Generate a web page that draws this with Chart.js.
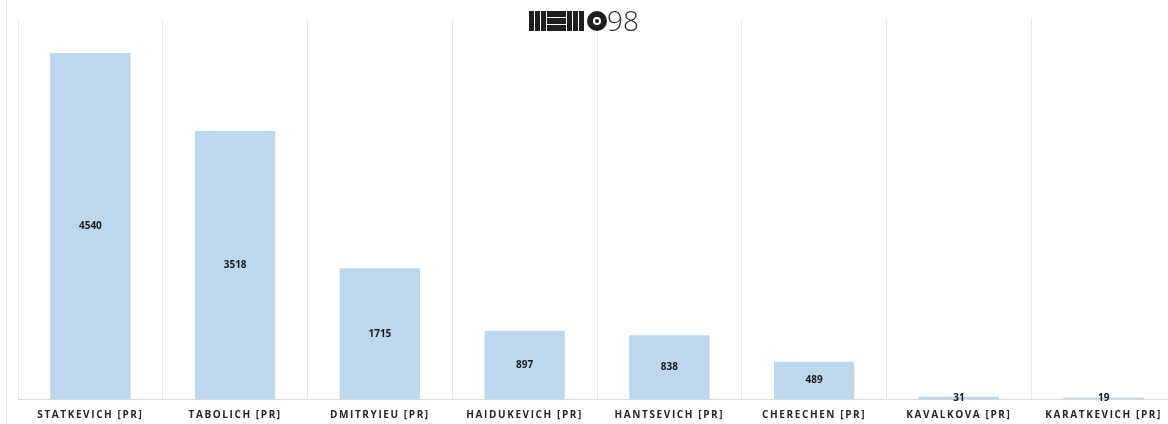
<!DOCTYPE html>
<html>
<head>
<meta charset="utf-8">
<script src="https://cdn.jsdelivr.net/npm/chart.js@4"></script>
<style>
  html, body { margin: 0; padding: 0; background: #fff; overflow: hidden; }
  #wrap { position: absolute; left: 0; top: 0; width: 1176px; height: 435px; }
  #frame { position: absolute; left: 6px; top: 0; width: 1px; height: 424px; background: #ececec; }
</style>
</head>
<body>
<div id="frame"></div>
<div id="wrap"><canvas id="votes"></canvas></div>
<script>
let candidates = [
    "STATKEVICH [PR]", "TABOLICH [PR]", "DMITRYIEU [PR]", "HAIDUKEVICH [PR]",
    "HANTSEVICH [PR]", "CHERECHEN [PR]", "KAVALKOVA [PR]", "KARATKEVICH [PR]"
]
let mentions = [4540, 3518, 1715, 897, 838, 489, 31, 19]

// spaced-out tick labels, only while axes are drawn
let letterSpacing = {
    id: 'letterSpacing',
    beforeDraw: function (chart) { chart.ctx.letterSpacing = '1.6px' },
    beforeDatasetsDraw: function (chart) { chart.ctx.letterSpacing = '0px' }
}

let barLabels = {
    id: 'barLabels',
    afterDatasetsDraw: function (chart) {
        let ctx = chart.ctx
        ctx.save()
        ctx.font = 'bold 10px "Open Sans"'
        ctx.fillStyle = '#1a1a1a'
        ctx.textAlign = 'center'
        ctx.textBaseline = 'middle'
        chart.getDatasetMeta(0).data.forEach(function (bar, i) {
            ctx.fillText(mentions[i], bar.x, (bar.y + bar.base) / 2)
        })
        ctx.restore()
    }
}

let logo = {
    id: 'logo',
    afterDraw: function (chart) {
        let ctx = chart.ctx
        let x = 529, y = 11, h = 20
        ctx.save()
        ctx.fillStyle = '#1e1e1e'
        // M
        for (let k = 0; k < 3; k++) ctx.fillRect(x + k * 6, y, 5, h)
        // E
        for (let k = 0; k < 3; k++) ctx.fillRect(x + 18, y + k * 7, 19, 6)
        // M
        for (let k = 0; k < 3; k++) ctx.fillRect(x + 38 + k * 6, y, 5, h)
        // O
        ctx.beginPath()
        ctx.arc(x + 68, y + h / 2, 10, 0, Math.PI * 2)
        ctx.fill()
        ctx.fillStyle = '#fff'
        ctx.beginPath()
        ctx.arc(x + 68, y + h / 2, 4, 0, Math.PI * 2)
        ctx.fill()
        ctx.fillStyle = '#1e1e1e'
        ctx.beginPath()
        ctx.arc(x + 68, y + h / 2, 2, 0, Math.PI * 2)
        ctx.fill()
        ctx.fillStyle = '#333'
        ctx.font = '300 28px "Open Sans"'
        ctx.textBaseline = 'alphabetic'
        ctx.fillText('98', x + 78, y + h)
        ctx.restore()
    }
}

new Chart(document.getElementById("votes"), {
    type: 'bar',
    data: {
        labels: candidates,
        datasets: [
            {
                data: mentions,
                backgroundColor: '#bdd7ee',
                categoryPercentage: 1,
                barPercentage: 0.555
            }
        ]
    },
    options: {
        maintainAspectRatio: false,
        responsive: true,
        animation: false,
        layout: {
            padding: { left: 18, top: 18, right: 0, bottom: 4 }
        },
        scales: {
            y: {
                display: false,
                min: 0,
                max: 5000
            },
            x: {
                offset: true,
                grid: {
                    offset: true,
                    color: '#e8e8e8',
                    lineWidth: 1,
                    drawTicks: false
                },
                border: {
                    display: true,
                    color: '#d9d9d9'
                },
                ticks: {
                    color: '#262626',
                    padding: 10,
                    maxRotation: 0,
                    autoSkip: false,
                    font: { family: '"Open Sans"', size: 10, weight: 'bold' }
                }
            }
        },
        plugins: {
            legend: { display: false },
            tooltip: { enabled: false }
        }
    },
    plugins: [letterSpacing, barLabels, logo]
});
</script>
</body>
</html>
